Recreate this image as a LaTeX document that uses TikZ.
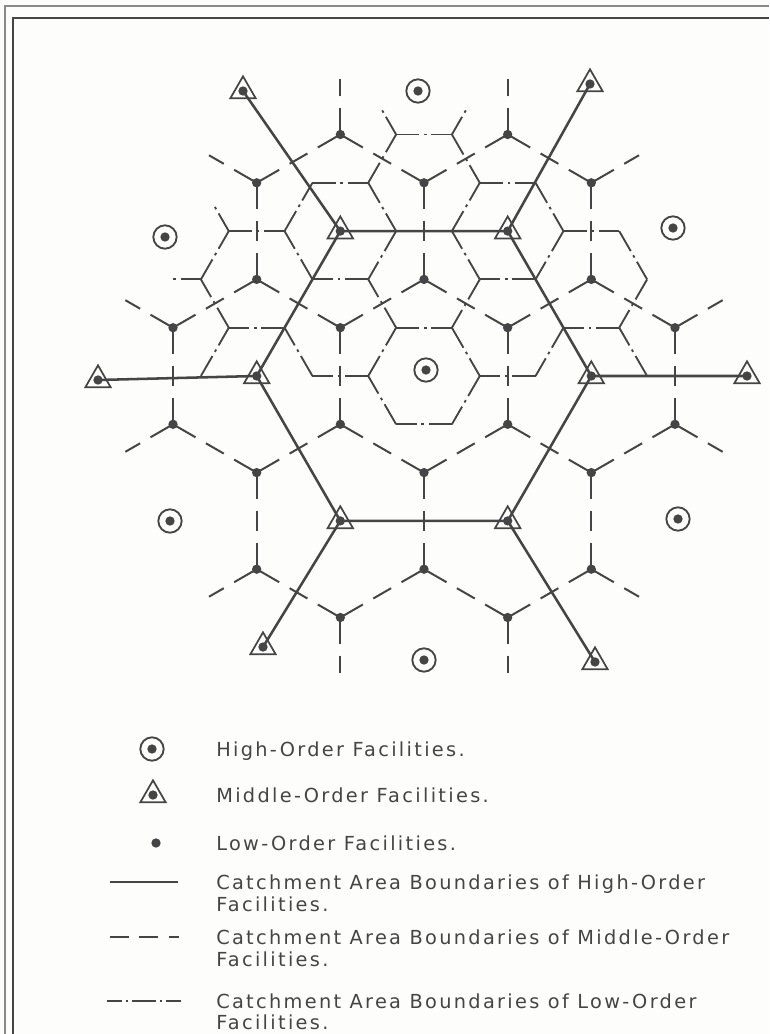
\documentclass[tikz,border=0pt]{standalone}
\usepackage{fontspec}
\setmainfont{DejaVu Sans}
\usetikzlibrary{shapes.geometric}
\definecolor{ink}{HTML}{454545}
\definecolor{paper}{HTML}{FDFDFB}
\definecolor{frame}{HTML}{8A8A8A}
\begin{document}
\begin{tikzpicture}[x=0.75pt,y=-0.75pt,
  hiline/.style={draw=ink,line width=1.9pt},
  midline/.style={draw=ink,line width=1.5pt,dash pattern=on 19.5pt off 9pt on 15.45pt off 9pt on 19.5pt off 80pt},
  lowline/.style={draw=ink,line width=1.4pt,dash pattern=on 15.3pt off 3.6pt on 2pt off 3.6pt on 17.3pt off 80pt},
  lowfac/.style={circle,fill=ink,inner sep=0pt,minimum size=7pt},
  midfac/.style={regular polygon,regular polygon sides=3,draw=ink,line width=1.3pt,inner sep=0pt,minimum size=22pt},
  hifac/.style={circle,draw=ink,line width=1.4pt,inner sep=0pt,minimum size=17.5pt},
  legtext/.style={anchor=base west,inner sep=0pt,text=ink,font=\fontsize{14.5pt}{16pt}\selectfont\addfontfeatures{LetterSpace=12}},
]
\fill[paper] (0,0) rectangle (769,1034);
\useasboundingbox (0,0) rectangle (769,1034);
% frame
\draw[frame,line width=0.9pt] (5,1034) -- (5,6) -- (769,6);
\draw[ink,line width=2pt] (13,1034) -- (13,18) -- (769,18);

% low-order boundary vertices
\foreach \X/\Y in {2/0,1/-1,-1/-1,-2/0,-1/1,1/1,-1/-3,-2/-4,-4/-4,-5/-3,-4/-2,-2/-2,
  5/-3,4/-4,2/-4,1/-3,2/-2,4/-2,1/-5,-1/-5,-5/-1,-4/0,5/-1,4/0,
  -7/-3,-8/-2,-7/-1,8/-2,7/-3,7/-1,-8/0,8/0}
  \coordinate (v\X_\Y) at ({424+27.887*\X},{376+48.3*\Y});
% low-order boundaries (dash-dot)
\foreach \a/\b/\c/\d in {2/0/1/-1,1/-1/-1/-1,-1/-1/-2/0,-2/0/-1/1,-1/1/1/1,1/1/2/0,
  -1/-3/-2/-4,-2/-4/-4/-4,-4/-4/-5/-3,-5/-3/-4/-2,-4/-2/-2/-2,-2/-2/-1/-3,
  5/-3/4/-4,4/-4/2/-4,2/-4/1/-3,1/-3/2/-2,2/-2/4/-2,4/-2/5/-3,
  2/-4/1/-5,1/-5/-1/-5,-1/-5/-2/-4,-2/-2/-1/-1,1/-1/2/-2,
  -5/-1/-4/0,-4/0/-2/0,2/0/4/0,4/0/5/-1,
  -5/-3/-7/-3,-7/-3/-8/-2,-8/-2/-7/-1,-7/-1/-5/-1,
  8/-2/7/-3,7/-3/5/-3,5/-1/7/-1,7/-1/8/-2,-7/-1/-8/0,7/-1/8/0}
  \draw[lowline] (v\a_\b) -- (v\c_\d);
% partial low-order arms
\foreach \a/\b/\da/\db in {-1/-5/-1/-1,1/-5/1/-1,-7/-3/-1/-1,-8/-2/-2/0}{
  \coordinate (w\a_\b) at ({424+27.887*(\a+0.55*\da)},{376+48.3*(\b+0.55*\db)});
  \draw[lowline] (v\a_\b) -- (w\a_\b);
}

% low-order facilities
\foreach \k/\n in {-3/-1,-3/1,-2/-4,-2/-2,-2/2,-2/4,-1/-5,-1/-1,-1/1,-1/5,
  0/-4,0/-2,0/2,0/4,1/-5,1/-1,1/1,1/5,2/-4,2/-2,2/2,2/4,3/-1,3/1}
  \node[lowfac] (d\k_\n) at ({424+83.66*\k},{376+48.3*\n}) {};
% middle-order boundaries (dashed)
\foreach \a/\b/\c/\d in {-3/-1/-3/1,-3/-1/-2/-2,-2/-4/-2/-2,-2/-4/-1/-5,
  -2/2/-2/4,-2/2/-1/1,-2/2/-3/1,-1/-1/-1/1,-1/-1/0/-2,-1/-1/-2/-2,
  -1/5/0/4,-1/5/-2/4,0/-4/0/-2,0/-4/1/-5,0/-4/-1/-5,0/2/0/4,0/2/1/1,0/2/-1/1,
  1/-1/1/1,1/-1/2/-2,1/-1/0/-2,1/5/2/4,1/5/0/4,2/-4/2/-2,2/-4/1/-5,
  2/2/2/4,2/2/3/1,2/2/1/1,3/-1/3/1,3/-1/2/-2}
  \draw[midline] (d\a_\b.center) -- (d\c_\d.center);
\foreach \a/\b/\da/\db in {-3/-1/-1/-1,-2/-4/-1/-1,-1/5/0/2,1/5/0/2,2/-4/1/-1,3/-1/1/-1,
  -3/1/-1/1,-2/4/-1/1,-1/-5/0/-2,1/-5/0/-2,2/4/1/1,3/1/1/1}{
  \coordinate (p\a_\b) at ({424+83.66*(\a+0.57*\da)},{376+48.3*(\b+0.57*\db)});
  \draw[midline] (d\a_\b.center) -- (p\a_\b);
}

% middle-order facilities (triangles)
\coordinate (TA) at (340.3,231.1);
\coordinate (TB) at (507.7,231.1);
\coordinate (TC) at (591.3,376);
\coordinate (TD) at (507.7,520.9);
\coordinate (TE) at (340.3,520.9);
\coordinate (TF) at (256.7,376);
\coordinate (OA) at (243,91);
\coordinate (OB) at (590,84);
\coordinate (OC) at (747,376);
\coordinate (OD) at (595,662);
\coordinate (OE) at (263,647);
\coordinate (OF) at (98,380);
% high-order boundaries (solid)
\draw[hiline] (TA) -- (TB) -- (TC) -- (TD) -- (TE) -- (TF) -- cycle;
\draw[hiline] (TA) -- (OA) (TB) -- (OB) (TC) -- (OC) (TD) -- (OD) (TE) -- (OE) (TF) -- (OF);
\foreach \t in {TA,TB,TC,TD,TE,TF,OA,OB,OC,OD,OE,OF}{
  \node[midfac] (m\t) at (\t) {};
  \node[lowfac] at (m\t.center) {};
}
% high-order facilities
\foreach \h/\x/\y in {HC/426/370,H1/418/91,H2/673/228,H3/678/519,H4/424/660,H5/170/521,H6/165/237}{
  \node[hifac] (\h) at (\x,\y) {};
  \node[lowfac] at (\h.center) {};
}

% legend
\node[hifac] (LH) at (152,749) {};
\node[lowfac] at (LH.center) {};
\node[legtext] (tH) at (216,756) {High-Order Facilities.};
\node[midfac] (LM) at (153,795) {};
\node[lowfac] at (LM.center) {};
\node[legtext] (tM) at (216,802) {Middle-Order Facilities.};
\node[lowfac] (LL) at (156,843) {};
\node[legtext] (tL) at (216,850) {Low-Order Facilities.};
\coordinate (s1) at (110,882); \coordinate (s2) at (178,882);
\draw[hiline] (s1) -- (s2);
\node[legtext] (tS1) at (216,889) {Catchment Area Boundaries of High-Order};
\node[legtext] (tS2) at (216,911) {Facilities.};
\coordinate (m1) at (110,937); \coordinate (m2) at (181,937);
\draw[draw=ink,line width=1.5pt,dash pattern=on 14pt off 8pt on 14pt off 8pt on 8pt off 20pt] (m1) -- (m2);
\node[legtext] (tM1) at (216,944) {Catchment Area Boundaries of Middle-Order};
\node[legtext] (tM2) at (216,966) {Facilities.};
\coordinate (l1) at (107,1001); \coordinate (l2) at (181,1001);
\draw[draw=ink,line width=1.4pt,dash pattern=on 11pt off 3pt on 1.8pt off 3pt on 18pt off 3pt on 1.8pt off 3pt on 12pt off 20pt] (l1) -- (l2);
\node[legtext] (tL1) at (216,1008) {Catchment Area Boundaries of Low-Order};
\node[legtext] (tL2) at (216,1029) {Facilities.};
\end{tikzpicture}
\end{document}
